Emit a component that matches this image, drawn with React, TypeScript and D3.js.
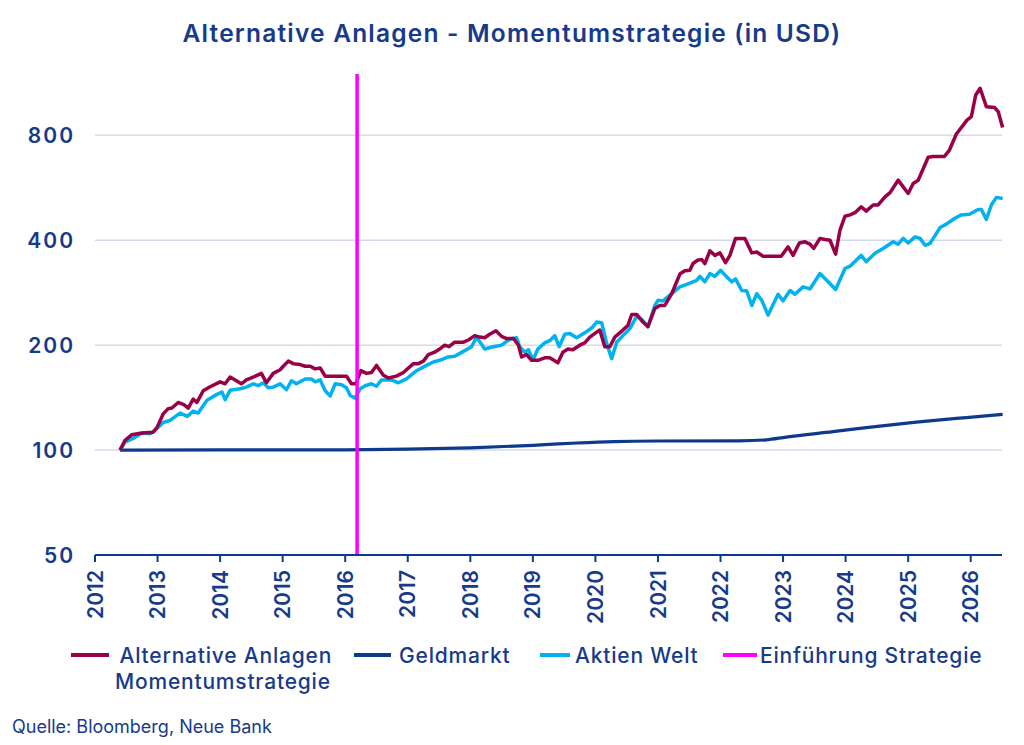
import React from "react";
import * as d3 from "d3";

const title = "Alternative Anlagen - Momentumstrategie (in USD)";
const source = "Quelle: Bloomberg, Neue Bank";

const yTicks = [50, 100, 200, 400, 800];
const gridTicks = [100, 200, 400, 800];
const xTicks = [2012, 2013, 2014, 2015, 2016, 2017, 2018, 2019, 2020, 2021, 2022, 2023, 2024, 2025, 2026];
const strategyStart = 2016.19;

const altMomentum: [number, number][] = [
  [2012.40, 100], [2012.48, 106.6], [2012.59, 110.7], [2012.75, 112], [2012.93, 112.6], [2012.99, 116],
  [2013.09, 127], [2013.17, 131.5], [2013.23, 132], [2013.33, 137], [2013.42, 135], [2013.49, 132],
  [2013.57, 140], [2013.63, 137], [2013.73, 148], [2013.84, 152], [2014.00, 157], [2014.08, 155],
  [2014.16, 162], [2014.24, 159], [2014.34, 155], [2014.42, 159], [2014.53, 162], [2014.66, 166],
  [2014.74, 156], [2014.85, 166], [2014.96, 170], [2015.01, 174], [2015.09, 180], [2015.17, 177],
  [2015.28, 176], [2015.36, 174], [2015.44, 174], [2015.52, 171], [2015.60, 172], [2015.68, 163],
  [2016.02, 163], [2016.10, 155], [2016.17, 155], [2016.25, 169], [2016.34, 166], [2016.42, 167],
  [2016.50, 175], [2016.61, 164], [2016.69, 161], [2016.82, 163], [2016.93, 167], [2017.09, 177],
  [2017.17, 177], [2017.25, 180], [2017.33, 188], [2017.43, 191], [2017.51, 195], [2017.59, 200],
  [2017.66, 198], [2017.75, 204], [2017.89, 204], [2017.97, 207], [2018.07, 213], [2018.15, 211],
  [2018.23, 210], [2018.31, 215], [2018.41, 220], [2018.50, 212], [2018.58, 209], [2018.69, 209],
  [2018.77, 200], [2018.82, 185], [2018.90, 188], [2018.98, 181], [2019.08, 181], [2019.19, 184],
  [2019.27, 184], [2019.40, 178], [2019.48, 191], [2019.56, 195], [2019.64, 194], [2019.75, 200],
  [2019.83, 203], [2019.91, 211], [2020.02, 218], [2020.07, 221], [2020.15, 198], [2020.23, 198],
  [2020.31, 211], [2020.44, 221], [2020.52, 228], [2020.58, 245], [2020.66, 245], [2020.76, 233],
  [2020.84, 226], [2020.95, 255], [2021.03, 260], [2021.11, 260], [2021.22, 281], [2021.35, 320],
  [2021.43, 327], [2021.51, 328], [2021.56, 343], [2021.64, 351], [2021.70, 352], [2021.75, 343],
  [2021.83, 373], [2021.91, 362], [2021.99, 368], [2022.08, 345], [2022.15, 362], [2022.24, 405],
  [2022.39, 405], [2022.50, 368], [2022.58, 370], [2022.68, 360], [2022.97, 360], [2023.08, 383],
  [2023.16, 362], [2023.26, 393], [2023.35, 396], [2023.43, 390], [2023.49, 379], [2023.59, 405],
  [2023.67, 402], [2023.75, 400], [2023.84, 365], [2023.91, 428], [2023.99, 469], [2024.07, 473],
  [2024.15, 480], [2024.25, 499], [2024.33, 485], [2024.44, 505], [2024.52, 505], [2024.63, 533],
  [2024.71, 548], [2024.84, 595], [2025.00, 545], [2025.08, 582], [2025.16, 595], [2025.32, 692],
  [2025.40, 696], [2025.58, 696], [2025.66, 726], [2025.77, 807], [2025.88, 856], [2025.94, 885],
  [2026.01, 905], [2026.08, 1045], [2026.15, 1092], [2026.25, 967], [2026.38, 962], [2026.44, 935],
  [2026.51, 843],
];

const aktienWelt: [number, number][] = [
  [2012.40, 100], [2012.48, 105.4], [2012.61, 108], [2012.75, 112], [2012.88, 111.4], [2012.96, 114],
  [2013.09, 120], [2013.20, 121.7], [2013.36, 127.7], [2013.48, 125], [2013.57, 129.4], [2013.65, 127.7],
  [2013.79, 139], [2013.95, 144.5], [2014.03, 146.7], [2014.08, 139.5], [2014.16, 148.4], [2014.32, 150],
  [2014.42, 151.6], [2014.53, 155], [2014.61, 153], [2014.69, 156], [2014.77, 151], [2014.85, 151.6],
  [2014.96, 155], [2015.06, 149], [2015.14, 158], [2015.22, 155], [2015.36, 160], [2015.46, 160],
  [2015.52, 157], [2015.60, 159], [2015.68, 148], [2015.76, 143], [2015.84, 155], [2015.94, 154],
  [2016.02, 151], [2016.08, 143.5], [2016.16, 141], [2016.24, 150], [2016.32, 153], [2016.42, 155],
  [2016.50, 152.5], [2016.58, 159], [2016.74, 159], [2016.85, 156], [2016.98, 160], [2017.14, 169],
  [2017.30, 175], [2017.41, 179], [2017.51, 181], [2017.65, 185], [2017.75, 186], [2017.89, 192],
  [2018.02, 198], [2018.10, 211], [2018.23, 195], [2018.37, 198], [2018.50, 200], [2018.63, 208],
  [2018.74, 210], [2018.79, 198], [2018.87, 191], [2018.93, 194], [2019.00, 181], [2019.08, 195],
  [2019.19, 203], [2019.27, 206], [2019.35, 213], [2019.42, 198], [2019.51, 215], [2019.59, 216],
  [2019.70, 210], [2019.83, 217], [2019.94, 224], [2020.02, 233], [2020.10, 232], [2020.18, 202],
  [2020.26, 183], [2020.34, 204], [2020.44, 213], [2020.55, 223], [2020.66, 242], [2020.74, 237],
  [2020.84, 226], [2020.95, 260], [2021.00, 269], [2021.08, 268], [2021.22, 281], [2021.35, 294],
  [2021.46, 299], [2021.62, 307], [2021.67, 315], [2021.75, 304], [2021.83, 321], [2021.91, 315],
  [2022.00, 328], [2022.10, 314], [2022.18, 304], [2022.24, 310], [2022.34, 287], [2022.42, 286],
  [2022.50, 260], [2022.58, 281], [2022.66, 269], [2022.76, 244], [2022.92, 280], [2023.00, 268],
  [2023.11, 287], [2023.19, 280], [2023.32, 294], [2023.43, 290], [2023.59, 321], [2023.69, 308],
  [2023.84, 289], [2023.99, 332], [2024.07, 337], [2024.25, 362], [2024.33, 347], [2024.47, 367],
  [2024.60, 379], [2024.76, 396], [2024.84, 390], [2024.92, 405], [2025.00, 393], [2025.11, 409],
  [2025.19, 405], [2025.27, 387], [2025.35, 392], [2025.51, 435], [2025.61, 445], [2025.74, 462],
  [2025.85, 473], [2025.98, 475], [2026.12, 490], [2026.17, 490], [2026.25, 459], [2026.33, 505],
  [2026.41, 531], [2026.51, 527],
];

const geldmarkt: [number, number][] = [
  [2012.40, 100], [2014.0, 100.1], [2016.0, 100.2], [2017.0, 100.6], [2018.0, 101.5], [2019.0, 103.2],
  [2019.7, 104.8], [2020.3, 105.8], [2021.0, 106.2], [2022.3, 106.3], [2022.73, 107.0], [2023.05, 109],
  [2023.8, 113], [2024.33, 116], [2025.13, 120.3], [2025.93, 124], [2026.51, 126.6],
];

const legendItems = [
  { lines: ["Alternative Anlagen", "Momentumstrategie"], color: "#9a0046" },
  { lines: ["Geldmarkt"], color: "#0e3a8c" },
  { lines: ["Aktien Welt"], color: "#00b2f0" },
  { lines: ["Einführung Strategie"], color: "#ff00ff" },
];

const NAVY = "#173a8a";
const FONT = "'Inter', 'Noto Sans', sans-serif";

export default function App() {
  const left = 95, right = 1002, top = 74, bottom = 555;
  const x = d3.scaleLinear().domain([2012, 2026.5]).range([left, right]);
  const y = d3.scaleLog().domain([50, 1200]).range([bottom, top]);
  const line = d3.line<[number, number]>().x((d) => x(d[0])).y((d) => y(d[1]));
  const smoothLine = d3.line<[number, number]>().x((d) => x(d[0])).y((d) => y(d[1])).curve(d3.curveMonotoneX);

  const swatchX = [71, 354, 540, 723];
  const swatchW = [38, 37, 30, 34];
  const textX = [119.5, 399, 575, 760];

  return (
    <svg width={1024} height={745} style={{ position: "absolute", left: 0, top: 0, background: "#fff" }} fontFamily={FONT}>
      <rect width={1024} height={745} fill="#fff" />
      <text x={512} y={42} textAnchor="middle" fontSize={24.5} fontWeight={600} letterSpacing={1.2} fill={NAVY}>{title}</text>

      {gridTicks.map((t) => (
        <line key={t} x1={left} x2={right} y1={y(t)} y2={y(t)} stroke="#d3daec" strokeWidth={1.5} />
      ))}
      {yTicks.map((t) => (
        <text key={t} x={75} y={y(t)} dy="0.36em" textAnchor="end" fontSize={21} fontWeight={600} letterSpacing={2} fill={NAVY}>{t}</text>
      ))}

      <path d={smoothLine(geldmarkt) ?? ""} fill="none" stroke="#0e3a8c" strokeWidth={3.2} strokeLinejoin="round" />
      <path d={line(aktienWelt) ?? ""} fill="none" stroke="#00b2f0" strokeWidth={3.5} strokeLinejoin="round" />
      <path d={line(altMomentum) ?? ""} fill="none" stroke="#9a0046" strokeWidth={3.5} strokeLinejoin="round" />

      <line x1={x(strategyStart)} x2={x(strategyStart)} y1={top} y2={bottom} stroke="#ff00ff" strokeWidth={3.5} />

      <line x1={left} x2={right} y1={bottom} y2={bottom} stroke="#0e3a8c" strokeWidth={2.2} />
      {xTicks.map((t) => (
        <g key={t} transform={`translate(${x(t)},${bottom})`}>
          <line y1={0} y2={7} stroke="#0e3a8c" strokeWidth={2} />
          <text transform="rotate(-90)" x={-15} y={0} dy="0.36em" textAnchor="end" fontSize={21} fontWeight={600} fill={NAVY}>{t}</text>
        </g>
      ))}

      {legendItems.map((it, i) => (
        <g key={i}>
          <line x1={swatchX[i]} x2={swatchX[i] + swatchW[i]} y1={655} y2={655} stroke={it.color} strokeWidth={4} />
          {it.lines.map((l, j) => (
            <text key={j} x={textX[i] - (j ? 4.5 : 0)} y={662.7 + j * 26.6} fontSize={21} fontWeight={500} letterSpacing={0.8} fill={NAVY}>{l}</text>
          ))}
        </g>
      ))}

      <text x={12} y={733} fontSize={18} fontWeight={400} fill={NAVY}>{source}</text>
    </svg>
  );
}
